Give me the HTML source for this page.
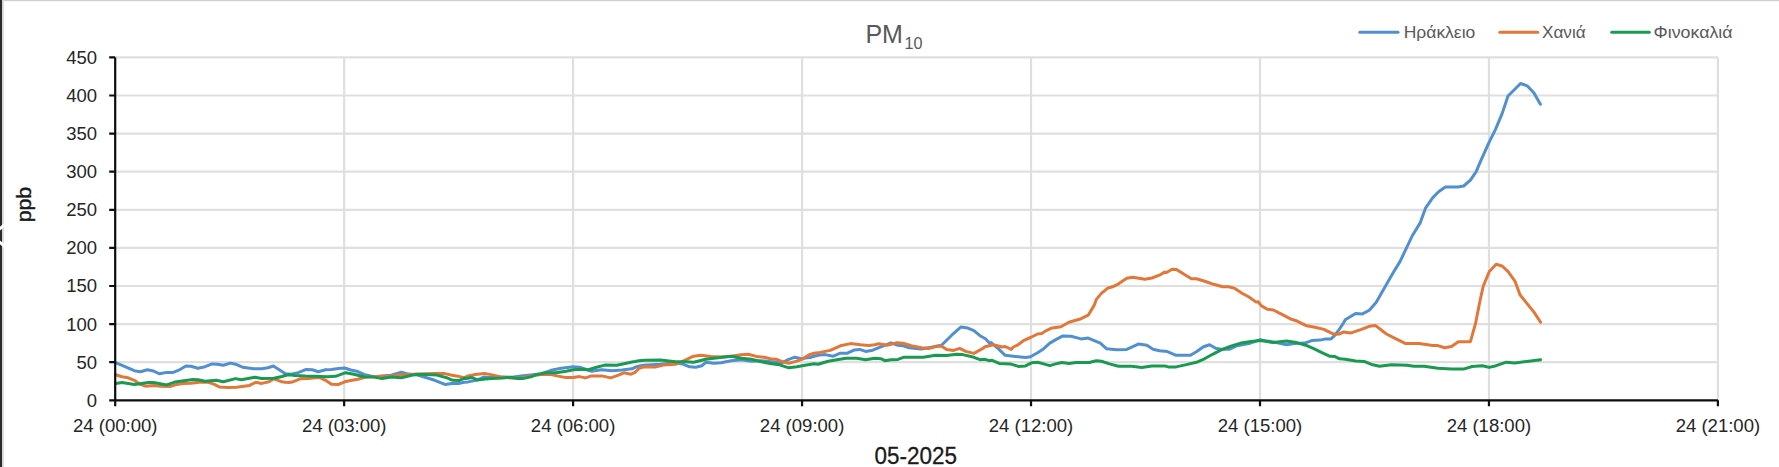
<!DOCTYPE html><html><head><meta charset="utf-8"><style>
html,body{margin:0;padding:0;background:#fff;width:1779px;height:467px;overflow:hidden}
svg{display:block}
text{font-family:"Liberation Sans",sans-serif}
</style></head><body>
<svg width="1779" height="467" viewBox="0 0 1779 467">
<rect x="0" y="0" width="1779" height="467" fill="#fff"/>

<rect x="0" y="0" width="1779" height="1.2" fill="#cfcfcf"/>
<rect x="0" y="0" width="2.0" height="467" fill="#2a2a2a"/>
<rect x="2.0" y="0" width="1.8" height="467" fill="#d6d6d6"/>
<path d="M115.2 362.20H1717.9M115.2 324.10H1717.9M115.2 286.00H1717.9M115.2 247.90H1717.9M115.2 209.80H1717.9M115.2 171.70H1717.9M115.2 133.60H1717.9M115.2 95.50H1717.9M115.2 57.40H1717.9M344.16 57.40V400.3M573.11 57.40V400.3M802.07 57.40V400.3M1031.03 57.40V400.3M1259.99 57.40V400.3M1488.94 57.40V400.3M1717.90 57.40V400.3" stroke="#dfdfdf" stroke-width="2.2" fill="none"/>
<path d="M115.6 362.6 L134.3 370.7 L140.4 371.7 L147.4 369.7 L153.5 371.0 L159.6 373.8 L166.7 372.4 L173.2 372.4 L178.8 370.2 L185.9 366.0 L190.9 366.2 L198.0 368.2 L205.1 366.7 L212.2 363.9 L217.3 364.2 L223.3 365.2 L230.4 363.1 L235.5 364.2 L242.5 367.2 L253.7 368.7 L261.8 368.7 L267.8 367.7 L273.4 366.0 L280.0 370.2 L285.5 373.8 L291.1 374.3 L298.2 372.7 L306.2 369.4 L312.3 369.7 L318.4 371.7 L325.5 369.7 L331.5 369.5 L338.6 368.4 L344.7 368.0 L350.8 370.0 L356.8 371.2 L364.9 374.8 L374.0 376.8 L382.1 376.1 L391.2 375.3 L401.4 372.2 L408.4 374.1 L416.5 374.8 L426.7 377.8 L434.7 380.3 L444.9 384.4 L451.9 383.4 L459.5 383.4 L464.1 382.3 L468.1 381.9 L476.2 380.4 L484.3 376.9 L490.4 377.6 L500.5 376.9 L510.6 377.4 L520.7 375.9 L530.8 374.9 L540.9 373.9 L551.1 370.3 L561.2 368.3 L573.3 366.8 L579.4 367.3 L585.5 369.3 L591.5 371.3 L601.7 369.8 L611.8 370.8 L621.9 370.1 L632.0 368.8 L635.0 367.3 L639.1 366.1 L644.1 365.3 L652.2 364.8 L660.3 364.3 L670.4 363.3 L677.5 363.1 L683.6 364.3 L689.6 366.8 L695.7 367.3 L701.8 365.8 L705.8 362.3 L713.9 363.3 L721.0 362.8 L731.1 360.8 L741.2 359.8 L751.4 361.3 L761.5 360.8 L771.6 361.8 L781.7 362.8 L788.8 359.3 L794.9 357.2 L800.9 358.8 L807.0 357.7 L810.0 357.5 L814.1 356.2 L820.1 354.9 L825.2 354.6 L833.3 356.2 L840.4 353.2 L847.4 353.2 L854.5 349.9 L859.6 349.4 L865.6 351.4 L872.7 350.2 L880.8 346.8 L890.9 342.8 L898.0 345.3 L903.1 345.8 L909.2 347.8 L921.3 348.9 L931.4 347.3 L941.5 345.3 L951.7 335.2 L960.8 327.1 L967.8 328.1 L973.9 330.7 L980.0 335.7 L985.5 338.7 L989.6 343.3 L991.1 342.6 L998.2 348.7 L1005.2 355.3 L1015.4 356.5 L1025.5 357.5 L1030.5 356.8 L1037.6 352.7 L1043.7 348.7 L1049.8 343.1 L1055.8 339.6 L1062.9 335.9 L1071.0 336.3 L1081.1 338.9 L1088.2 338.1 L1100.3 343.1 L1106.4 348.7 L1116.5 349.7 L1126.7 349.4 L1131.7 347.2 L1138.8 343.9 L1146.9 345.2 L1153.0 349.2 L1159.5 350.7 L1164.6 351.2 L1166.1 351.2 L1176.2 355.3 L1190.4 355.3 L1196.4 351.7 L1203.5 346.7 L1209.6 344.7 L1215.6 348.2 L1220.7 349.2 L1229.8 349.2 L1236.9 345.7 L1249.0 343.6 L1260.2 339.6 L1267.3 341.1 L1276.4 342.6 L1286.5 344.7 L1294.6 343.6 L1304.7 343.1 L1311.8 340.6 L1319.9 340.1 L1325.9 338.9 L1331.0 338.9 L1335.0 335.1 L1338.1 331.0 L1343.6 322.8 L1345.3 319.7 L1355.6 313.5 L1362.4 313.9 L1369.3 310.2 L1376.1 302.5 L1386.4 284.5 L1393.3 272.5 L1400.1 261.4 L1407.0 246.9 L1412.6 235.2 L1420.3 222.6 L1425.5 208.2 L1432.8 197.6 L1438.6 191.8 L1445.3 187.0 L1457.9 187.0 L1463.7 186.0 L1470.4 180.2 L1476.2 171.6 L1480.5 161.3 L1488.7 143.2 L1495.4 129.7 L1502.2 113.4 L1508.0 96.0 L1513.8 90.2 L1520.5 83.5 L1527.2 85.8 L1534.0 93.1 L1540.4 104.3" stroke="#5090d0" stroke-width="3" fill="none" stroke-linejoin="round" stroke-linecap="round"/>
<path d="M115.6 374.8 L122.1 376.8 L128.2 377.8 L134.3 380.3 L140.4 384.4 L145.4 386.2 L153.5 385.4 L160.6 386.2 L170.7 386.4 L176.8 384.4 L182.8 383.4 L190.9 383.2 L199.0 382.3 L207.1 382.1 L213.2 383.9 L219.3 386.9 L227.4 387.4 L236.5 387.2 L249.6 385.4 L255.7 382.3 L261.8 383.4 L268.9 381.8 L273.9 378.8 L282.0 381.8 L285.0 382.3 L289.1 382.5 L292.1 382.1 L300.2 378.8 L308.3 378.6 L315.4 377.8 L320.4 377.8 L325.5 380.3 L331.5 384.2 L338.6 384.4 L344.7 381.8 L350.8 380.5 L357.8 379.3 L364.9 377.3 L374.0 376.5 L381.1 376.5 L391.2 376.1 L401.4 374.8 L411.5 374.5 L416.5 374.1 L426.7 373.8 L436.8 373.6 L443.9 373.4 L451.9 375.3 L459.5 376.6 L464.1 377.8 L468.1 375.9 L475.2 374.6 L484.3 373.4 L492.4 374.9 L500.5 376.9 L510.6 377.9 L520.7 378.2 L530.8 375.9 L540.9 374.4 L551.1 374.6 L557.1 375.9 L566.2 377.6 L573.3 377.6 L579.4 376.6 L585.5 377.9 L591.5 375.9 L601.7 375.9 L610.8 377.9 L617.8 375.4 L623.9 372.8 L631.0 374.2 L635.0 372.4 L639.1 368.3 L644.1 366.8 L655.2 367.1 L663.3 365.1 L675.5 364.3 L683.6 360.8 L693.7 356.2 L700.8 355.2 L710.9 356.4 L721.0 357.0 L731.1 356.2 L741.2 354.7 L748.3 354.2 L756.4 356.4 L764.5 357.2 L771.6 359.1 L776.7 359.3 L782.7 361.8 L788.8 363.3 L796.9 361.1 L803.0 358.8 L809.5 354.6 L814.1 353.2 L820.1 352.4 L830.2 350.4 L840.4 345.8 L850.5 343.6 L860.6 344.8 L868.7 345.5 L874.8 344.8 L878.8 343.8 L886.9 345.3 L897.0 342.8 L903.1 343.3 L911.2 345.8 L921.3 347.8 L929.4 348.4 L936.5 346.3 L941.5 346.3 L946.6 349.4 L953.7 350.4 L959.7 348.4 L965.8 351.4 L973.9 353.4 L982.0 348.9 L985.0 346.8 L989.1 345.8 L993.1 344.8 L1002.2 347.0 L1005.2 346.5 L1011.3 349.4 L1013.3 347.0 L1017.4 345.2 L1024.0 340.3 L1030.5 337.5 L1037.6 334.0 L1041.7 333.4 L1044.7 331.5 L1050.8 328.3 L1060.9 326.8 L1069.0 322.2 L1081.1 318.7 L1088.2 315.2 L1094.3 305.1 L1096.3 299.4 L1101.4 293.4 L1107.4 288.3 L1112.5 286.8 L1118.6 283.8 L1126.7 278.2 L1132.7 277.2 L1138.8 278.2 L1144.9 279.2 L1151.9 278.0 L1159.5 275.2 L1164.6 272.1 L1166.1 272.7 L1172.1 269.2 L1176.2 269.4 L1183.3 273.7 L1191.4 278.8 L1196.4 278.8 L1205.5 281.5 L1213.6 284.3 L1222.7 286.8 L1228.8 286.8 L1234.9 288.4 L1242.0 293.2 L1249.0 297.0 L1256.1 302.1 L1258.1 301.7 L1261.2 305.6 L1267.3 309.2 L1273.3 310.0 L1281.4 314.2 L1291.5 319.3 L1297.6 321.3 L1306.7 325.8 L1314.8 327.3 L1323.9 329.4 L1332.0 333.4 L1335.5 334.3 L1339.6 333.9 L1343.6 331.9 L1350.4 333.1 L1360.7 329.7 L1369.3 326.3 L1375.3 325.4 L1386.4 334.0 L1395.0 338.3 L1405.2 343.4 L1419.0 343.4 L1432.7 345.5 L1437.8 345.6 L1444.7 347.7 L1451.5 346.5 L1458.4 341.7 L1470.4 341.7 L1475.5 323.7 L1479.8 301.7 L1483.2 286.3 L1489.2 271.7 L1496.1 264.3 L1502.1 266.0 L1508.1 271.7 L1514.9 281.1 L1520.0 294.8 L1526.9 303.4 L1533.8 311.9 L1540.6 322.3" stroke="#e2773a" stroke-width="3" fill="none" stroke-linejoin="round" stroke-linecap="round"/>
<path d="M115.6 383.4 L122.1 382.5 L134.3 384.4 L148.4 382.5 L153.5 382.5 L166.7 384.9 L174.8 382.1 L193.0 379.5 L198.0 379.8 L205.1 381.3 L216.2 380.3 L223.3 381.8 L235.5 378.6 L241.5 379.8 L254.7 377.3 L261.8 378.5 L273.9 378.3 L282.0 376.5 L285.0 375.5 L289.1 374.8 L295.1 375.5 L305.2 376.1 L315.4 376.3 L327.5 376.8 L335.6 376.3 L345.7 372.7 L353.8 374.3 L363.9 376.8 L374.0 377.1 L382.1 378.6 L391.2 377.1 L401.4 377.8 L411.5 375.3 L416.5 374.5 L426.7 374.5 L436.8 375.1 L446.9 377.8 L453.0 380.3 L459.5 380.4 L464.1 378.3 L466.1 378.4 L472.1 377.6 L477.2 379.9 L485.3 378.9 L492.4 378.4 L502.5 377.9 L510.6 377.2 L516.7 378.4 L522.7 378.6 L530.8 376.9 L536.9 374.4 L546.0 372.8 L556.1 372.8 L566.2 371.3 L573.3 369.8 L581.4 369.3 L588.5 369.8 L596.6 367.3 L604.7 365.1 L616.8 365.3 L623.9 363.8 L632.0 362.0 L635.0 361.5 L639.1 360.7 L645.1 360.3 L660.3 360.1 L675.5 361.8 L685.6 361.8 L693.7 362.3 L705.8 359.3 L718.0 357.7 L731.1 356.2 L741.2 358.2 L751.4 359.3 L761.5 361.8 L771.6 363.8 L779.7 364.8 L788.8 367.8 L796.9 366.8 L805.0 365.3 L814.1 363.8 L818.1 364.3 L828.2 361.2 L838.3 359.4 L846.4 358.2 L856.5 358.2 L865.6 359.7 L874.8 358.2 L880.8 358.7 L884.9 360.7 L890.9 359.7 L898.0 359.4 L904.1 357.2 L911.2 357.2 L923.3 357.2 L935.5 355.2 L946.6 355.4 L956.7 354.2 L961.8 354.4 L971.9 356.7 L980.0 359.7 L985.0 359.3 L989.1 360.7 L992.1 360.3 L999.2 363.4 L1010.3 363.9 L1018.4 366.4 L1025.5 365.9 L1031.5 362.8 L1037.6 362.3 L1043.7 363.9 L1049.8 365.6 L1055.8 363.9 L1061.9 362.5 L1069.0 363.6 L1076.1 362.5 L1089.2 362.5 L1096.3 360.8 L1101.4 361.3 L1109.5 363.9 L1118.6 366.2 L1131.7 366.2 L1141.8 367.4 L1151.9 365.9 L1160.0 365.9 L1164.6 365.9 L1168.1 366.9 L1176.2 366.9 L1185.3 364.9 L1196.4 362.3 L1204.5 358.8 L1212.6 354.3 L1220.7 350.2 L1230.8 346.2 L1240.9 343.1 L1251.1 341.6 L1260.2 340.6 L1267.3 341.6 L1273.3 342.6 L1286.5 341.1 L1296.6 342.6 L1305.7 345.2 L1313.8 348.7 L1321.9 352.7 L1330.0 356.3 L1335.0 356.6 L1339.6 358.8 L1345.3 359.3 L1355.6 361.0 L1364.1 361.4 L1372.7 364.8 L1379.5 366.2 L1391.5 364.8 L1407.0 365.2 L1413.8 366.2 L1424.1 366.2 L1437.8 368.2 L1451.5 369.1 L1463.5 369.1 L1472.1 366.5 L1482.4 365.7 L1489.2 367.4 L1496.1 365.7 L1506.3 362.2 L1514.9 363.1 L1526.9 361.4 L1540.6 359.7" stroke="#1a9a50" stroke-width="3" fill="none" stroke-linejoin="round" stroke-linecap="round"/>
<path d="M115.2 57.40V406.3M109.2 400.3H1717.9M109.2 400.30H115.2M109.2 362.20H115.2M109.2 324.10H115.2M109.2 286.00H115.2M109.2 247.90H115.2M109.2 209.80H115.2M109.2 171.70H115.2M109.2 133.60H115.2M109.2 95.50H115.2M109.2 57.40H115.2M115.20 400.3V406.3M344.16 400.3V406.3M573.11 400.3V406.3M802.07 400.3V406.3M1031.03 400.3V406.3M1259.99 400.3V406.3M1488.94 400.3V406.3M1717.90 400.3V406.3" stroke="#0d0d0d" stroke-width="2.2" fill="none"/>
<text x="97" y="406.7" text-anchor="end" font-size="18.5" fill="#262626">0</text>
<text x="97" y="368.6" text-anchor="end" font-size="18.5" fill="#262626">50</text>
<text x="97" y="330.5" text-anchor="end" font-size="18.5" fill="#262626">100</text>
<text x="97" y="292.4" text-anchor="end" font-size="18.5" fill="#262626">150</text>
<text x="97" y="254.3" text-anchor="end" font-size="18.5" fill="#262626">200</text>
<text x="97" y="216.2" text-anchor="end" font-size="18.5" fill="#262626">250</text>
<text x="97" y="178.1" text-anchor="end" font-size="18.5" fill="#262626">300</text>
<text x="97" y="140.0" text-anchor="end" font-size="18.5" fill="#262626">350</text>
<text x="97" y="101.9" text-anchor="end" font-size="18.5" fill="#262626">400</text>
<text x="97" y="63.8" text-anchor="end" font-size="18.5" fill="#262626">450</text>
<text x="115.2" y="431.8" text-anchor="middle" font-size="18" fill="#262626" textLength="84.5" lengthAdjust="spacingAndGlyphs">24 (00:00)</text>
<text x="344.2" y="431.8" text-anchor="middle" font-size="18" fill="#262626" textLength="84.5" lengthAdjust="spacingAndGlyphs">24 (03:00)</text>
<text x="573.1" y="431.8" text-anchor="middle" font-size="18" fill="#262626" textLength="84.5" lengthAdjust="spacingAndGlyphs">24 (06:00)</text>
<text x="802.1" y="431.8" text-anchor="middle" font-size="18" fill="#262626" textLength="84.5" lengthAdjust="spacingAndGlyphs">24 (09:00)</text>
<text x="1031.0" y="431.8" text-anchor="middle" font-size="18" fill="#262626" textLength="84.5" lengthAdjust="spacingAndGlyphs">24 (12:00)</text>
<text x="1260.0" y="431.8" text-anchor="middle" font-size="18" fill="#262626" textLength="84.5" lengthAdjust="spacingAndGlyphs">24 (15:00)</text>
<text x="1488.9" y="431.8" text-anchor="middle" font-size="18" fill="#262626" textLength="84.5" lengthAdjust="spacingAndGlyphs">24 (18:00)</text>
<text x="1717.9" y="431.8" text-anchor="middle" font-size="18" fill="#262626" textLength="84.5" lengthAdjust="spacingAndGlyphs">24 (21:00)</text>
<text x="915.7" y="464.1" text-anchor="middle" font-size="23" fill="#1a1a1a" textLength="82.5" lengthAdjust="spacingAndGlyphs" stroke="#1a1a1a" stroke-width="0.3">05-2025</text>
<text transform="translate(31.2,204.6) rotate(-90)" text-anchor="middle" font-size="20.5" fill="#1a1a1a" textLength="35.5" lengthAdjust="spacingAndGlyphs" stroke="#1a1a1a" stroke-width="0.4">ppb</text>
<text x="865.4" y="42.7" font-size="25" fill="#595959">PM</text>
<text x="904.6" y="48.5" font-size="16.5" fill="#595959" textLength="18" lengthAdjust="spacingAndGlyphs">10</text>
<path d="M1359.8 32.2H1398.0" stroke="#5090d0" stroke-width="3" stroke-linecap="round"/>
<text x="1403.7" y="37.8" font-size="16" fill="#595959" textLength="71.6" lengthAdjust="spacingAndGlyphs">Ηράκλειο</text>
<path d="M1499.8 32.2H1537.7" stroke="#e2773a" stroke-width="3" stroke-linecap="round"/>
<text x="1542" y="37.8" font-size="16" fill="#595959" textLength="43.7" lengthAdjust="spacingAndGlyphs">Χανιά</text>
<path d="M1611.7 32.2H1649.3" stroke="#1a9a50" stroke-width="3" stroke-linecap="round"/>
<text x="1653.6" y="37.8" font-size="16" fill="#595959" textLength="79" lengthAdjust="spacingAndGlyphs">Φινοκαλιά</text>
<path d="M7 222.5 L-1 229.5 M-1 241.5 L7 248.5" stroke="#fff" stroke-width="3" fill="none"/>
<path d="M0 231 L2 233.5 L2 238.5 L0 241Z" fill="#2a2a2a"/>
</svg></body></html>
